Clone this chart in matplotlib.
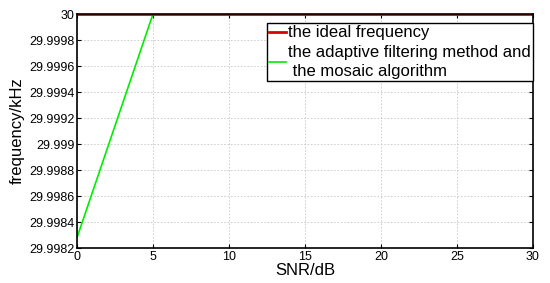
import numpy as np
import matplotlib.pyplot as plt
from matplotlib.ticker import FormatStrFormatter

snr = [0, 5, 10, 15, 20, 25, 30]
ideal = [30, 30, 30, 30, 30, 30, 30]
adaptive = [29.99828, 30, 30, 30, 30, 30, 30]
yticks = [29.9982, 29.9984, 29.9986, 29.9988, 29.999, 29.9992, 29.9994, 29.9996, 29.9998, 30]

plt.rc('font', family='Liberation Sans')

fig = plt.figure(figsize=(5.5, 2.83), dpi=100)
ax = fig.add_axes([77/550, 1 - 248/283, (533-77)/550, (248-14)/283])

ax.plot(snr, adaptive, color='#00ee00', lw=1.2, label='the adaptive filtering method and\n the mosaic algorithm')
ax.plot(snr, ideal, color='#dd0000', lw=2.0, label='the ideal frequency')

ax.set_xlim(0, 30)
ax.set_ylim(29.9982, 30)
ax.set_xticks([0, 5, 10, 15, 20, 25, 30])
ax.set_yticks(yticks)
ax.yaxis.set_major_formatter(FormatStrFormatter('%g'))
ax.tick_params(direction='in', top=True, right=True, labelsize=9, length=3, pad=2)
ax.grid(True, linestyle=(0, (2, 2)), color='#c8c8c8', lw=0.6)
for s in ax.spines.values():
    s.set_linewidth(1.2)

ax.set_xlabel('SNR/dB', fontsize=12, labelpad=0)
ax.set_ylabel('frequency/kHz', fontsize=12, labelpad=3)

h, l = ax.get_legend_handles_labels()
leg = ax.legend(h[::-1], l[::-1], loc='upper right', bbox_to_anchor=(1.0, 0.962),
                fontsize=12, handlelength=1.0, handletextpad=0.1, borderpad=0.15,
                labelspacing=0.25, fancybox=False, framealpha=1, edgecolor='black',
                borderaxespad=0)
leg.get_texts()[1].set_linespacing(1.35)
leg.get_frame().set_linewidth(1.0)

plt.savefig('out.png', dpi=100)
